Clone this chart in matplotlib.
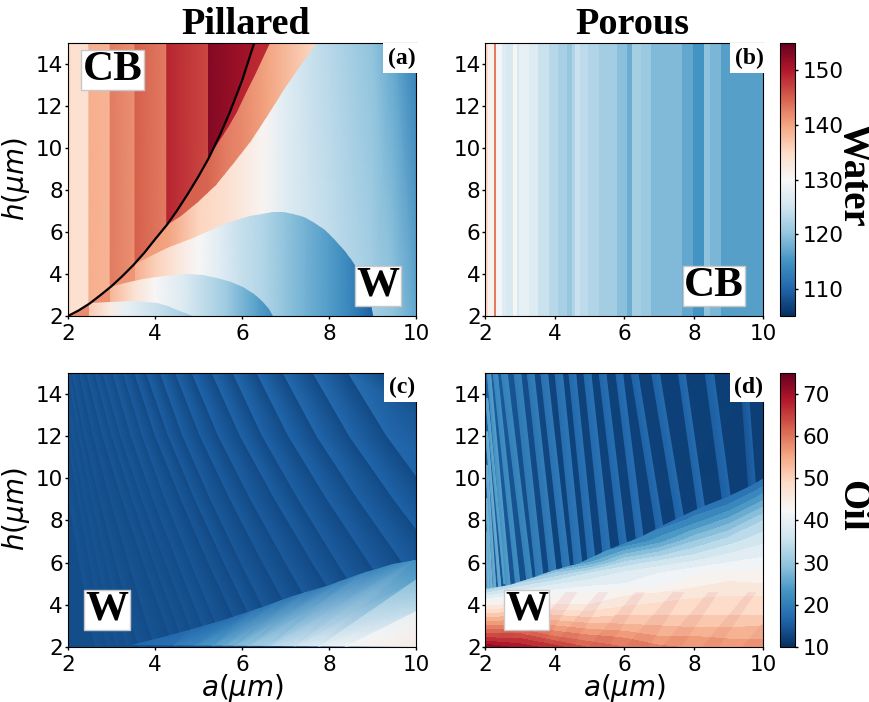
import numpy as np
import matplotlib
matplotlib.use("Agg")
import matplotlib.pyplot as plt
from matplotlib.colors import Normalize
from matplotlib.cm import ScalarMappable
from matplotlib.patches import Polygon

# panel (a): Cassie stripes left of the black curve
cb_a = [2, 2.08, 2.08, 2.48, 2.48, 2.97, 2.97, 3.54, 3.54, 4.27, 4.27, 5.23, 5.23, 6.4]
cb_v = [135, 135, 134, 134, 139, 138.5, 143, 141.5, 145, 143, 149, 146.5, 153, 150.5]
curve_a = [2, 2.25, 2.5, 2.75, 3, 3.25, 3.5, 3.75, 4, 4.27, 4.5, 4.75, 5, 5.23, 5.5, 5.72, 6, 6.28]
curve_h = [2, 2.27, 2.6, 3.0, 3.42, 3.9, 4.42, 5.0, 5.65, 6.33, 7.0, 7.8, 8.65, 9.5, 10.65, 11.7, 13.2, 15]

# panel (a): background, top and bottom of the frame differ near a=10
base_a = [2, 3.5, 4.3, 5, 5.65, 6.5, 7, 8, 9, 9.5, 10]
base_top = [142, 141, 140, 135.5, 134, 130.5, 127, 123, 120, 117, 113]
base_bot = [142, 141, 140, 135.5, 134, 130.5, 127, 124, 121.5, 120, 117]

# panel (a): the two wedges next to the curve
b2_a = [4.27, 4.6, 5.0, 5.4, 5.8, 6.2, 6.6, 7.0, 7.4, 7.72]
b2_h = [6.33, 6.75, 7.45, 8.25, 9.25, 10.35, 11.55, 12.85, 14.1, 15]
wedge2_a = [4.27, 4.7, 5.2, 5.6, 6, 6.57, 7.5, 7.8]
wedge2_v = [146, 145, 144.5, 143, 142, 140, 136, 135]
b1_a = [5.2, 5.4, 5.7, 5.88, 6.1, 6.3, 6.64]
b1_h = [9.5, 10.1, 11.05, 11.73, 12.6, 13.5, 15]
wedge1_a = [5, 6.7]
wedge1_v = [150, 148.5]

# panel (a): the three domes
dome_a_a = [3.54, 4.27, 4.88, 5.65, 6.18, 6.45, 6.72, 6.95, 7.18, 7.42, 7.64, 7.9, 8.1, 8.35, 8.56, 8.72, 8.87, 8.96, 9.02]
dome_a_h = [4.5, 5.22, 5.73, 6.41, 6.76, 6.87, 6.94, 6.93, 6.87, 6.72, 6.46, 6.08, 5.7, 5.15, 4.59, 3.95, 3.16, 2.55, 2]
dome_a_x = [3.5, 4, 4.5, 5, 5.5, 6, 6.5, 7, 7.5, 8, 8.5, 9]
dome_a_v = [139.5, 136, 133, 130, 127, 124, 122.5, 120, 118, 116, 113.5, 109.5]
dome_b_a = [2.97, 3.3, 3.73, 4.2, 4.73, 5.1, 5.42, 5.75, 6.03, 6.28, 6.49, 6.63, 6.72]
dome_b_h = [3.37, 3.58, 3.78, 3.92, 3.98, 3.95, 3.83, 3.63, 3.4, 3.05, 2.68, 2.32, 2]
dome_b_x = [2.9, 3.5, 4, 4.73, 5.65, 6.4, 6.75]
dome_b_v = [139, 134, 130, 126, 121, 116, 114]
dome_c_a = [2.48, 2.97, 3.46, 3.8, 4.04, 4.3, 4.5, 4.7, 4.88]
dome_c_h = [2.6, 2.68, 2.71, 2.67, 2.6, 2.46, 2.29, 2.15, 2]
dome_c_x = [2.4, 2.97, 3.35, 4.1, 4.7, 4.9]
dome_c_v = [137, 132, 128, 124, 121.5, 120.5]

# panel (b): vertical stripes
porous_edges = [2, 2.06, 2.24, 2.29, 2.48, 2.58, 2.78, 2.91, 2.97, 3.26, 3.5, 3.83, 4.09, 4.35, 4.48,
                4.58, 4.72, 4.96, 5.27, 5.79, 6.07, 6.21, 6.47, 6.76, 7.65, 7.98, 8.28, 8.46, 8.78, 10]
porous_vals = [135, 131, 143, 129.5, 127, 126, 130.5, 126, 128, 126.5, 124.5, 123, 121.7, 120.3, 122.5,
               124.5, 123.5, 122.5, 121.3, 119.5, 117.5, 121.5, 120.7, 119, 117, 115, 120, 118.5, 116.3]

# panel (c): band edges, a at each of these heights
c_rows = [15, 12, 9, 6, 3, 2]
c_edges = [
    [1.60, 1.80, 2.02, 2.27, 2.53, 2.63],
    [1.75, 1.98, 2.24, 2.50, 2.80, 2.90],
    [1.87, 2.10, 2.38, 2.68, 3.00, 3.11],
    [2.00, 2.25, 2.55, 2.88, 3.22, 3.34],
    [2.10, 2.38, 2.73, 3.10, 3.49, 3.63],
    [2.26, 2.58, 2.97, 3.40, 3.84, 4.00],
    [2.43, 2.80, 3.25, 3.74, 4.26, 4.44],
    [2.62, 3.01, 3.48, 3.98, 4.52, 4.70],
    [2.80, 3.21, 3.70, 4.24, 4.80, 5.00],
    [3.03, 3.45, 3.96, 4.52, 5.10, 5.30],
    [3.27, 3.71, 4.24, 4.82, 5.43, 5.64],
    [3.53, 4.01, 4.60, 5.23, 5.90, 6.13],
    [3.80, 4.31, 4.92, 5.59, 6.29, 6.53],
    [4.12, 4.64, 5.28, 5.97, 6.70, 6.95],
    [4.47, 5.04, 5.73, 6.48, 7.27, 7.55],
    [4.85, 5.46, 6.20, 7.00, 7.84, 8.14],
    [5.31, 5.96, 6.76, 7.62, 8.53, 8.84],
    [5.79, 6.47, 7.30, 8.19, 9.13, 9.46],
    [6.34, 7.07, 7.96, 8.92, 9.92, 10.27],
    [6.94, 7.72, 8.67, 9.69, 10.77, 11.14],
    [7.63, 8.47, 9.49, 10.59, 11.75, 12.16],
    [8.44, 9.33, 10.40, 11.56, 12.79, 13.20],
    [9.30, 11.32, 13.80, 16.40, 19.20, 20.20],
    [14.0, 17.0, 20.0, 23.0, 26.0, 27.0],
]
c_bright = [14.8, 14.8, 14.9, 14.9, 15, 15, 15.1, 15.2, 15.3, 15.4, 15.5, 15.7,
            15.9, 16.1, 16.3, 16.5, 16.7, 16.9, 17.1, 17.3, 17.5, 17.7, 18]
c_dark = [13.6, 13.6, 13.6, 13.5, 13.5, 13.5, 13.5, 13.4, 13.4, 13.4, 13.3, 13.3,
          13.3, 13.2, 13.2, 13.2, 13.1, 13.1, 13.1, 13.1, 13.1, 13.1, 13.1]
c_fade = [1, 0.85, 0.7, 0.6, 0.6, 0.6]

# panel (c): lower wedge
c_bound_a = [3.46, 4.11, 4.88, 5.65, 6.41, 7.18, 7.95, 8.71, 9.48, 10]
c_bound_h = [2.08, 2.44, 2.84, 3.32, 3.87, 4.43, 4.9, 5.46, 5.94, 6.1]
c_low_edge = [3.4, 4.4, 4.9, 5.3, 5.55, 5.8, 6.1, 6.6, 7.2, 7.76, 8.37, 11]
c_up_edge = [3.46, 4.9, 6.0, 6.5, 7.0, 7.6, 8.4, 9.0, 10, 10, 10, 11]
c_up_h = [2.08, 2.95, 3.65, 4.05, 4.4, 4.8, 5.3, 5.75, 6.2, 5.17, 3.67, 3.67]
c_val_low_l = [17, 20, 23, 25, 27, 28.5, 30.5, 33.5, 37, 40, 42]
c_val_low_r = [18.5, 21.5, 24, 26, 27.5, 29.5, 32, 35.5, 38.5, 41, 47]
c_val_up_l = [17, 17, 17, 18, 18.5, 19, 20, 20.5, 22, 29, 40]
c_val_up_r = [17, 17.5, 18.5, 19, 19.5, 20.5, 21.5, 22.5, 24.5, 34.5, 42]
c_wedge_base = 18

# panel (d): stripes above the boundary
d_gap_a = [2, 3, 4, 10]
d_gap_v = [16, 14, 12.5, 12]
d_top_l = [2, 2, 2, 2, 2, 2.05, 2.22, 2.45, 2.82, 3.2, 3.59, 4.0, 4.4, 4.83, 5.27, 5.75, 6.19, 6.78, 7.55, 8.32, 9.33]
d_top_r = [2.06, 2.06, 2.06, 2.06, 2.06, 2.14, 2.34, 2.62, 3.01, 3.39, 3.78, 4.21, 4.59, 5.03, 5.46, 5.94, 6.38, 7.0, 7.74, 8.56, 9.52]
d_top_h = [7.45, 9.03, 10.6, 12.19, 13.77, 15, 15, 15, 15, 15, 15, 15, 15, 15, 15, 15, 15, 15, 15, 15, 15]
d_low_l = [2.05, 2.14, 2.24, 2.38, 2.53, 2.6, 2.88, 3.2, 3.47, 3.85, 4.23, 4.56, 4.95, 5.38, 5.87, 6.35, 6.92, 7.49, 8.12, 8.83, 9.58]
d_low_r = [2.11, 2.2, 2.3, 2.44, 2.59, 2.72, 3.0, 3.36, 3.67, 4.05, 4.43, 4.78, 5.15, 5.6, 6.07, 6.55, 7.12, 7.71, 8.32, 9.07, 9.78]
d_low_h = [4.5, 4.6, 4.7, 4.8, 5.0, 4.7, 4.8, 5.0, 5.1, 5.3, 5.6, 5.8, 6.1, 6.4, 6.7, 7.0, 7.5, 8.0, 8.4, 8.8, 9.4]
d_stripe_v = [27, 27, 26, 26, 25, 24, 22, 21, 20, 19.5, 19, 18.5, 18, 18, 17.5, 17.5, 17, 17, 17, 16.5, 15.5]

# panel (d): lower part
d_bound_a = [2, 2.65, 3.28, 3.95, 4.67, 5.49, 6.45, 7.02, 7.6, 8.22, 8.95, 9.67, 10]
d_bound_h = [4.76, 4.92, 5.24, 5.63, 5.95, 6.58, 7.2, 7.69, 8.16, 8.63, 9.1, 9.66, 10]
d_table_a = [2, 3, 4, 5, 6, 7, 8, 9, 10]
d_table_h = [2, 2.5, 3, 3.5, 4, 4.5, 5, 5.5, 6, 7, 8, 9, 10]
d_table = [
    [72, 69, 66, 62, 60, 58, 57, 56.5, 56],
    [64, 64, 60, 58, 57, 55, 55, 54.5, 54.5],
    [58, 58, 55, 53.5, 53, 52.5, 52, 52, 52.5],
    [51, 52, 50, 49, 50, 50, 50, 50, 50],
    [44, 46, 45, 45, 47, 48, 49, 49.5, 49],
    [36, 40, 42, 43, 44.5, 45.5, 46.5, 47, 47],
    [25, 33, 37, 39, 40, 41.5, 44, 45.5, 45],
    [19, 19, 30, 35, 38, 40, 42, 43, 43],
    [18, 18, 18, 25, 33, 36, 38, 40, 41],
    [18, 18, 18, 18, 19, 24, 30, 34, 37],
    [16, 16, 16, 16, 16, 17, 21, 26, 32.5],
    [15, 15, 15, 15, 15, 15, 16, 18, 24.5],
    [15, 15, 15, 15, 15, 15, 15, 15, 17],
]
d_diag_l = [2.08, 2.94, 3.9, 4.96, 6.02, 7.07, 8.23, 9.38]
d_diag_r = [2.56, 3.61, 4.48, 5.54, 6.69, 7.65, 8.71, 9.95]
d_diag_shift = 1.2
d_diag_top = 4.6

xticks = [2, 4, 6, 8, 10]
yticks = [2, 4, 6, 8, 10, 12, 14]
water_ticks = [110, 120, 130, 140, 150]
oil_ticks = [10, 20, 30, 40, 50, 60, 70]

W, H = 870, 702
CMAP = "RdBu_r"
SERIF = "Liberation Serif"
water = Normalize(105, 155)
oil = Normalize(10, 75)


def px_axes(fig, l, t, r, b):
    return fig.add_axes([l / W, 1 - b / H, (r - l) / W, (b - t) / H])


def clip_to(ax, artist, xs, ys):
    poly = Polygon(np.column_stack([xs, ys]), closed=True, transform=ax.transData)
    artist.set_clip_path(poly)


def gradient(ax, xs, vals, norm, poly=None):
    # value only depends on a, h spans the frame
    c = np.array([vals, vals], dtype=float)
    m = ax.pcolormesh(xs, [2, 15], c, shading="gouraud", cmap=CMAP, norm=norm)
    if poly is not None:
        clip_to(ax, m, poly[0], poly[1])
    return m


def label_box(fig, x, y, s, size):
    fig.text(x / W, 1 - y / H, s, fontsize=size, family=SERIF, weight="bold", ha="center", va="center",
             zorder=5, bbox=dict(boxstyle="square,pad=0.03", fc="white", ec="#c8c8c8", lw=1))


def tag_box(fig, x, y, s):
    fig.text(x / W, 1 - y / H, s, fontsize=17, family=SERIF, weight="bold", ha="center", va="center",
             zorder=5, bbox=dict(boxstyle="square,pad=0.2", fc="white", ec="white", lw=0))


def dress(ax, xlabel=False, ylabel=False):
    ax.set_xlim(2, 10)
    ax.set_ylim(2, 15)
    ax.set_xticks(xticks)
    ax.set_yticks(yticks)
    ax.tick_params(axis="x", labelsize=15.5, length=2, width=1, pad=3.5)
    ax.tick_params(axis="y", labelsize=15.5, length=2, width=1, pad=1.5)
    if xlabel:
        ax.set_xlabel(r"$a(\mu m)$", fontsize=20)
        ax.xaxis.set_label_coords(0.5, -0.09)
    if ylabel:
        ax.set_ylabel(r"$h(\mu m)$", fontsize=20)
        ax.yaxis.set_label_coords(-0.103, 0.5)


def panel_a(ax):
    ax.pcolormesh(base_a, [15, 2], np.array([base_top, base_bot]), shading="gouraud", cmap=CMAP, norm=water)
    gradient(ax, wedge2_a, wedge2_v, water, (b2_a + [4.27], b2_h + [15]))
    gradient(ax, wedge1_a, wedge1_v, water, (b1_a + [5.2], b1_h + [15]))
    gradient(ax, cb_a, cb_v, water, (curve_a + [2], curve_h + [15]))
    gradient(ax, dome_a_x, dome_a_v, water, (dome_a_a + [3.54], dome_a_h + [2]))
    gradient(ax, dome_b_x, dome_b_v, water, (dome_b_a + [2.97], dome_b_h + [2]))
    gradient(ax, dome_c_x, dome_c_v, water, (dome_c_a + [2.48], dome_c_h + [2]))
    ax.plot(curve_a, curve_h, color="black", lw=1.6)


def panel_b(ax):
    ax.pcolormesh(porous_edges, [2, 15], [porous_vals], cmap=CMAP, norm=water)


def panel_c(ax):
    ax.pcolormesh([2, 10], [2, 15], [[c_dark[0]]], cmap=CMAP, norm=oil)
    hs = np.array(c_rows, dtype=float)
    for i in range(len(c_bright)):
        x = np.column_stack([c_edges[i], c_edges[i + 1]])
        y = np.column_stack([hs, hs])
        left = c_dark[i] + (c_bright[i] - c_dark[i]) * np.array(c_fade)
        right = np.full(len(hs), c_dark[i])
        ax.pcolormesh(x, y, np.column_stack([left, right]), shading="gouraud", cmap=CMAP, norm=oil)

    outline = (c_bound_a + [10], c_bound_h + [2])
    m = ax.pcolormesh([2, 11], [1.5, 15], [[c_wedge_base]], cmap=CMAP, norm=oil)
    clip_to(ax, m, outline[0], outline[1])
    for i in range(len(c_val_low_l)):
        x = np.array([[c_low_edge[i], c_low_edge[i + 1]], [c_up_edge[i], c_up_edge[i + 1]]])
        y = np.array([[2, 2], [c_up_h[i], c_up_h[i + 1]]])
        c = np.array([[c_val_low_l[i], c_val_low_r[i]], [c_val_up_l[i], c_val_up_r[i]]])
        m = ax.pcolormesh(x, y, c, shading="gouraud", cmap=CMAP, norm=oil)
        clip_to(ax, m, outline[0], outline[1])


def panel_d(ax):
    ax.pcolormesh(d_gap_a, [2, 15], [d_gap_v, d_gap_v], shading="gouraud", cmap=CMAP, norm=oil)
    for i in range(len(d_stripe_v)):
        x = np.array([[d_top_l[i], d_top_r[i]], [d_low_l[i], d_low_r[i]]])
        y = np.array([[d_top_h[i], d_top_h[i]], [d_low_h[i], d_low_h[i]]])
        v = d_stripe_v[i]
        c = np.array([[v - 0.8, v + 0.6], [v - 0.8, v + 0.6]])
        ax.pcolormesh(x, y, c, shading="gouraud", cmap=CMAP, norm=oil)
    levels = np.arange(10, 76, 2.5)
    cs = ax.contourf(d_table_a, d_table_h, d_table, levels=levels, cmap=CMAP, norm=oil)
    clip_to(ax, cs, d_bound_a + [10, 2], d_bound_h + [2, 2])
    # darker diagonal bands near the bottom, narrowing upwards
    for l, r in zip(d_diag_l, d_diag_r):
        w = (r - l) / 4
        xs = [l, r, r + d_diag_shift - w, l + d_diag_shift + w]
        ax.fill(xs, [2, 2, d_diag_top, d_diag_top], color="#b2182b", alpha=0.07, lw=0)


def colorbar(fig, box, norm, ticks):
    cax = px_axes(fig, *box)
    cb = fig.colorbar(ScalarMappable(norm=norm, cmap=CMAP), cax=cax)
    cb.set_ticks(ticks)
    cb.ax.tick_params(labelsize=15.5, length=2, width=1, pad=3.5)


def main():
    fig = plt.figure(figsize=(W / 100, H / 100), dpi=100)

    ax_a = px_axes(fig, 68, 43, 416, 316)
    ax_b = px_axes(fig, 485.5, 43, 763.5, 316)
    ax_c = px_axes(fig, 68, 372.5, 416, 647)
    ax_d = px_axes(fig, 485.5, 372.5, 763.5, 647)

    panel_a(ax_a)
    panel_b(ax_b)
    panel_c(ax_c)
    panel_d(ax_d)

    dress(ax_a, ylabel=True)
    dress(ax_b)
    dress(ax_c, xlabel=True, ylabel=True)
    dress(ax_d, xlabel=True)

    colorbar(fig, (780, 43, 795, 316), water, water_ticks)
    colorbar(fig, (780, 372.5, 795, 647), oil, oil_ticks)

    fig.text(245.5 / W, 1 - 25 / H, "Pillared", fontsize=27.5, family=SERIF, weight="bold", ha="center", va="center")
    fig.text(632 / W, 1 - 25 / H, "Porous", fontsize=27.5, family=SERIF, weight="bold", ha="center", va="center")
    fig.text(853 / W, 1 - 175 / H, "Water", fontsize=28, family=SERIF, weight="bold", rotation=270, ha="center", va="center")
    fig.text(852 / W, 1 - 506 / H, "Oil", fontsize=28, family=SERIF, weight="bold", rotation=270, ha="center", va="center")

    label_box(fig, 112.5, 70, "CB", 31)
    label_box(fig, 378, 286, "W", 31)
    label_box(fig, 714, 286, "CB", 31)
    label_box(fig, 107, 610, "W", 31)
    label_box(fig, 526.5, 610, "W", 31)

    tag_box(fig, 402, 58, "(a)")
    tag_box(fig, 749, 58, "(b)")
    tag_box(fig, 402, 387, "(c)")
    tag_box(fig, 749, 387, "(d)")

    fig.savefig("out.png", dpi=100)


if __name__ == "__main__":
    main()
